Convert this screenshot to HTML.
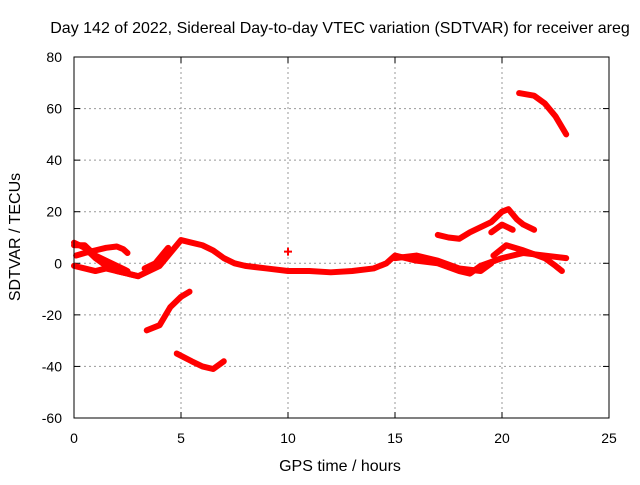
<!DOCTYPE html>
<html><head><meta charset="utf-8"><style>
body{margin:0;background:#fff}
svg text{font-family:"Liberation Sans",sans-serif;font-size:14px;fill:#000}
svg text.big{font-size:16px}
</style></head><body>
<svg id="c" width="640" height="480">
<text class="big" x="340" y="33" text-anchor="middle">Day 142 of 2022, Sidereal Day-to-day VTEC variation (SDTVAR) for receiver areg</text>
<text class="big" x="340" y="471" text-anchor="middle">GPS time / hours</text>
<text class="big" transform="translate(20,237) rotate(-90)" text-anchor="middle">SDTVAR / TECUs</text>
<g id="grid"></g><g id="ticks"></g><g id="series"></g>
<rect x="74" y="57" width="535" height="361" fill="none" stroke="#000" stroke-width="1"/>
</svg>
<script>
const xTicks=[0,5,10,15,20,25];
const yTicks=[80,60,40,20,0,-20,-40,-60];
const segA=[[0,8],[0.5,6],[1,2],[1.5,-1],[2,-3],[2.5,-4],[3,-5],[3.5,-3],[4,-1],[4.5,4],[5,9],[5.5,8],[6,7],[6.5,5],[7,2],[7.5,0],[8,-1],[9,-2],[10,-3],[11,-3],[12,-3.5],[13,-3],[14,-2],[14.6,0],[15,3],[15.5,2],[16,1],[17,0],[18,-3],[18.5,-4],[19,-1],[20,2],[21,4],[22,3],[23,2]];
const segB=[[0.1,3],[0.5,4],[1,5],[1.5,6],[2,6.5],[2.3,5.5],[2.5,4]];
const segC=[[0,-1],[0.5,-2],[1,-3],[1.5,-2],[2,-3],[2.5,-4],[3,-5]];
const segD=[[0,7],[0.5,7],[1,3],[1.5,1],[2,-1],[2.5,-3]];
const segE=[[3.3,-2],[3.8,0],[4.2,4],[4.4,6]];
const segF=[[3.4,-26],[4,-24],[4.5,-17],[5,-13],[5.4,-11]];
const segG=[[4.8,-35],[5.5,-38],[6,-40],[6.5,-41],[7,-38]];
const segH=[[17,11],[17.5,10],[18,9.5],[18.5,12],[19,14],[19.5,16],[20,20],[20.3,21],[20.7,17],[21,15],[21.5,13]];
const segI=[[19.5,12],[20,15],[20.5,13]];
const segJ=[[19.6,3],[20.2,7],[21,5],[22,2],[22.5,-1],[22.8,-3]];
const segK=[[15,2],[16,3],[17,1],[18,-2],[19,-3],[19.5,0]];
const segL=[[20.8,66],[21.5,65],[22,62],[22.5,57],[23,50]];
const isolated=[[10,4.5]];
const segments=[segA,segB,segC,segD,segE,segF,segG,segH,segI,segJ,segK,segL];
const X=v=>74+v*535/25, Y=v=>57+(80-v)*361/140;
const NS='http://www.w3.org/2000/svg';
const mk=(t,a,p)=>{const e=document.createElementNS(NS,t);for(const k in a)e.setAttribute(k,a[k]);p.appendChild(e);return e;};
const g=document.getElementById('grid'),tk=document.getElementById('ticks'),s=document.getElementById('series');
xTicks.forEach(v=>{
 if(v>0&&v<25){const l=mk('line',{x1:X(v),x2:X(v),y1:57,y2:418,stroke:'#999','stroke-dasharray':'2,3'},g);
 
 }
 mk('line',{x1:X(v),x2:X(v),y1:418,y2:412,stroke:'#000'},tk);mk('line',{x1:X(v),x2:X(v),y1:57,y2:63,stroke:'#000'},tk);
 const t=mk('text',{x:X(v),y:443,'text-anchor':'middle'},tk);t.textContent=v;
 
 
});
yTicks.forEach(v=>{
 if(v<80&&v>-60){const l=mk('line',{x1:74,x2:609,y1:Y(v),y2:Y(v),stroke:'#999','stroke-dasharray':'2,3'},g);
 
 }
 mk('line',{x1:74,x2:80,y1:Y(v),y2:Y(v),stroke:'#000'},tk);mk('line',{x1:609,x2:603,y1:Y(v),y2:Y(v),stroke:'#000'},tk);
 const t=mk('text',{x:62,y:Y(v)+5,'text-anchor':'end'},tk);t.textContent=v;
 
 
});
segments.forEach(seg=>{
 const p=mk('polyline',{points:seg.map(d=>X(d[0])+','+Y(d[1])).join(' '),fill:'none',stroke:'#f00','stroke-width':6,'stroke-linejoin':'round','stroke-linecap':'round'},s);
 
 
});
isolated.forEach(d=>{
 const p=mk('path',{d:`M${X(d[0])-4},${Y(d[1])}h8M${X(d[0])},${Y(d[1])-4}v8`,stroke:'#f00','stroke-width':2},s);
 
 
});
</script>
</body></html>
